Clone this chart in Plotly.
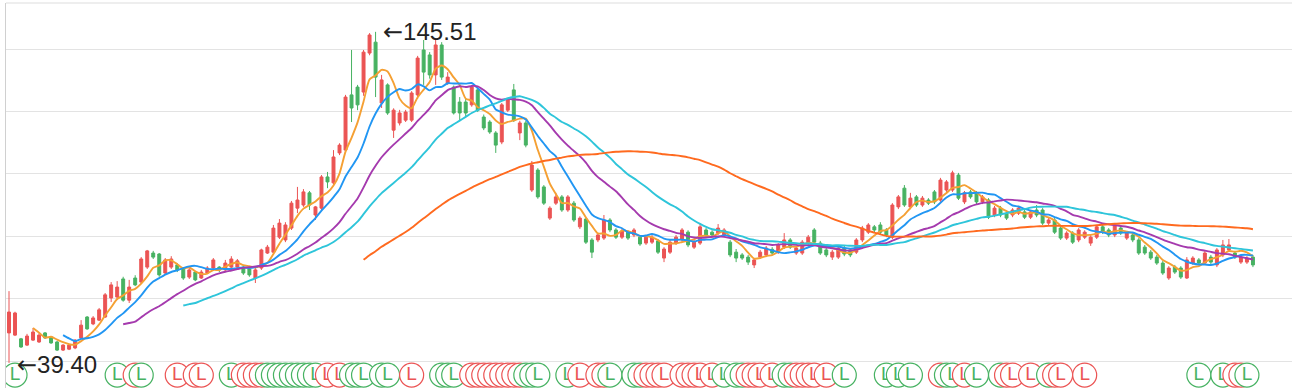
import plotly.graph_objects as go
import pandas as pd

# ---------------- data ----------------
opens = [49.0, 48.3, 47.1, 45.1, 46.7, 46.1, 49.0, 47.7, 46.1, 43.5,
         43.8, 44.2, 47.4, 54.1, 51.9, 53.1, 54.1, 60.2, 60.5, 66.3,
         59.5, 66.6, 65.3, 70.1, 74.6, 74.3, 68.2, 70.1, 70.8, 69.8,
         66.9, 68.5, 66.6, 68.2, 69.8, 70.1, 69.2, 70.1, 70.1, 70.1,
         69.5, 66.6, 69.8, 74.6, 74.9, 79.7, 78.8, 82.6, 89.0, 90.0,
         93.9, 86.8, 89.0, 99.0, 97.1, 106.7, 107.6, 125.3, 127.8, 126.2,
         138.7, 142.2, 122.7, 128.5, 114.0, 116.3, 117.2, 117.2, 125.3, 139.7,
         138.1, 131.7, 141.3, 129.1, 127.8, 123.0, 123.0, 122.1, 126.9, 118.2,
         116.6, 113.1, 110.2, 120.4, 126.9, 113.1, 116.3, 94.8, 101.2, 95.8,
         85.8, 90.6, 92.6, 88.4, 90.6, 83.0, 85.5, 78.8, 78.8, 79.4,
         85.2, 82.0, 79.7, 81.3, 80.4, 79.7, 77.8, 78.1, 78.5, 73.0,
         74.9, 77.8, 78.8, 81.3, 76.5, 77.8, 82.0, 81.3, 81.0, 80.4,
         78.1, 74.9, 74.0, 73.3, 70.8, 73.3, 74.0, 75.8, 74.9, 76.5,
         78.8, 74.6, 74.6, 77.8, 82.0, 77.8, 75.6, 73.3, 73.3, 76.2,
         75.6, 74.9, 78.8, 81.3, 83.0, 83.6, 82.0, 79.7, 89.4, 95.4,
         89.4, 92.6, 90.0, 91.6, 94.2, 91.6, 94.8, 94.8, 99.6, 91.0,
         94.2, 93.9, 91.0, 91.6, 86.8, 89.0, 87.4, 86.8, 87.4, 87.8,
         86.1, 88.4, 88.4, 84.2, 85.2, 82.6, 79.4, 81.0, 78.8, 79.7,
         77.8, 79.7, 83.0, 82.0, 80.4, 82.6, 79.4, 80.4, 78.8, 76.5,
         74.9, 73.3, 71.4, 66.6, 70.1, 69.8, 66.6, 71.4, 72.4, 71.4,
         73.3, 70.8, 74.0, 75.6, 74.6, 71.7, 71.7, 73.3]
highs = [62.4, 55.8, 47.4, 48.7, 50.6, 49.3, 49.3, 48.0, 46.4, 45.4,
         45.4, 47.0, 53.1, 54.4, 54.4, 57.0, 61.8, 65.3, 65.6, 67.0,
         66.0, 67.5, 73.3, 75.6, 75.3, 74.6, 73.0, 73.6, 71.4, 70.1,
         69.8, 68.9, 69.2, 70.4, 73.0, 70.4, 72.4, 73.6, 72.7, 70.4,
         69.8, 69.8, 76.0, 77.2, 83.6, 85.5, 84.5, 91.3, 95.8, 95.1,
         94.5, 89.7, 99.6, 100.6, 107.6, 109.8, 125.3, 139.7, 128.5, 139.7,
         145.1, 145.51, 131.7, 129.0, 121.0, 120.5, 120.5, 126.5, 137.8, 142.9,
         139.0, 142.9, 142.2, 132.6, 128.3, 124.6, 124.0, 128.5, 127.5, 119.0,
         117.2, 113.7, 122.7, 124.3, 128.8, 117.0, 117.0, 104.1, 101.8, 96.4,
         89.6, 93.9, 93.2, 93.2, 91.3, 86.4, 86.1, 79.4, 81.0, 86.8,
         85.8, 82.6, 82.3, 81.9, 82.6, 80.0, 80.4, 80.4, 79.1, 76.5,
         78.8, 80.4, 82.6, 81.9, 78.8, 84.2, 82.6, 81.9, 83.9, 82.6,
         78.8, 75.9, 74.6, 74.0, 73.0, 75.6, 76.9, 76.5, 77.8, 81.0,
         79.4, 76.9, 78.8, 80.4, 82.6, 78.5, 76.2, 75.6, 76.9, 76.9,
         76.2, 79.4, 83.3, 84.2, 83.6, 84.5, 82.6, 90.6, 93.2, 96.4,
         93.9, 93.2, 92.9, 92.2, 94.8, 98.7, 98.0, 101.0, 100.3, 94.5,
         94.8, 94.5, 93.2, 92.2, 89.7, 89.7, 88.0, 89.0, 89.7, 88.4,
         88.4, 90.0, 89.0, 85.8, 85.8, 83.3, 81.6, 81.6, 82.6, 81.9,
         80.4, 83.6, 83.6, 82.6, 84.2, 83.3, 81.6, 81.0, 79.4, 77.2,
         75.6, 74.0, 72.1, 70.4, 70.8, 70.4, 73.3, 73.6, 73.0, 75.3,
         74.0, 76.2, 78.8, 79.1, 75.3, 74.0, 73.6, 74.0]
lows = [39.4, 48.0, 44.2, 44.8, 46.4, 45.8, 47.1, 45.5, 43.2, 43.2,
        43.5, 43.8, 47.0, 50.0, 51.5, 52.8, 53.8, 58.9, 59.6, 59.0,
        58.6, 64.0, 64.7, 69.5, 72.7, 67.0, 67.6, 69.5, 68.5, 66.0,
        66.3, 65.6, 66.3, 67.9, 69.5, 68.5, 68.9, 69.8, 69.8, 67.6,
        67.0, 65.0, 69.2, 74.3, 74.6, 79.1, 78.1, 82.0, 87.4, 89.4,
        88.4, 85.2, 88.4, 95.4, 96.5, 106.0, 107.0, 116.6, 120.4, 125.0,
        138.0, 124.6, 121.1, 118.9, 111.5, 115.5, 116.6, 116.6, 124.0, 128.5,
        130.5, 128.5, 130.1, 128.5, 119.0, 117.2, 118.5, 121.5, 119.8, 114.0,
        112.8, 106.7, 109.5, 119.8, 116.6, 110.8, 108.5, 94.2, 92.0, 90.0,
        85.2, 90.0, 87.8, 87.8, 84.6, 82.3, 77.5, 73.0, 78.1, 78.8,
        81.3, 79.1, 79.1, 78.8, 79.7, 76.9, 77.2, 77.5, 74.3, 71.7,
        74.3, 77.2, 78.1, 76.5, 75.9, 77.2, 79.7, 79.7, 80.4, 79.7,
        73.3, 71.7, 72.4, 70.8, 69.8, 72.7, 73.3, 74.0, 74.3, 75.9,
        75.9, 74.0, 74.0, 77.2, 77.5, 74.0, 73.3, 72.4, 72.7, 73.6,
        73.3, 74.3, 78.1, 80.7, 81.3, 80.7, 79.7, 79.1, 88.7, 89.4,
        88.7, 89.4, 89.4, 90.0, 90.3, 91.0, 94.2, 94.2, 91.6, 90.3,
        92.0, 90.3, 90.3, 85.5, 86.1, 86.1, 85.2, 86.1, 86.8, 85.5,
        85.5, 86.1, 83.6, 83.6, 80.7, 78.8, 78.8, 77.5, 78.1, 79.1,
        76.9, 79.1, 80.7, 79.7, 79.7, 80.4, 78.8, 78.1, 74.0, 74.0,
        72.4, 70.8, 67.6, 66.0, 67.9, 66.3, 66.3, 70.8, 70.8, 70.8,
        71.1, 70.1, 73.3, 75.0, 72.7, 71.1, 71.1, 70.1]
closes = [55.7, 55.4, 44.5, 48.0, 49.3, 48.3, 47.4, 45.8, 43.5, 45.1,
          45.1, 46.7, 51.5, 50.3, 53.8, 56.4, 61.2, 64.4, 63.7, 59.5,
          63.7, 64.4, 72.7, 75.3, 73.3, 67.6, 72.4, 72.7, 69.2, 66.6,
          69.2, 66.0, 68.5, 69.8, 72.4, 69.2, 71.4, 72.7, 72.1, 68.2,
          67.6, 69.2, 75.6, 76.5, 82.6, 84.2, 83.6, 90.6, 91.6, 94.2,
          90.0, 89.4, 99.0, 97.4, 105.4, 109.2, 124.6, 121.1, 122.1, 139.0,
          144.5, 131.0, 130.1, 119.5, 120.4, 119.5, 119.8, 125.9, 137.1, 132.6,
          131.7, 141.3, 131.0, 131.0, 119.5, 119.5, 119.5, 127.8, 120.4, 114.7,
          113.4, 109.2, 122.1, 123.7, 117.2, 116.3, 109.2, 102.8, 92.6, 90.6,
          89.0, 92.6, 88.4, 92.6, 85.2, 85.8, 78.1, 74.9, 80.4, 85.2,
          82.0, 79.7, 81.7, 79.4, 82.0, 77.5, 79.7, 79.7, 74.9, 75.9,
          78.1, 79.7, 82.0, 77.2, 78.1, 83.0, 80.4, 80.4, 82.6, 82.0,
          74.0, 73.0, 73.0, 71.7, 72.4, 74.9, 76.2, 74.6, 77.2, 78.8,
          76.5, 76.2, 78.1, 79.7, 78.1, 74.6, 74.0, 74.9, 76.2, 74.3,
          74.0, 78.8, 82.6, 83.6, 82.0, 81.3, 80.4, 90.0, 92.6, 90.0,
          92.2, 90.0, 92.2, 90.6, 91.0, 98.0, 97.4, 100.3, 92.2, 93.9,
          92.6, 91.0, 92.6, 86.1, 89.0, 86.8, 85.8, 88.4, 89.0, 86.1,
          87.8, 86.8, 84.2, 85.2, 81.3, 79.4, 81.0, 78.1, 82.0, 81.3,
          79.7, 83.0, 81.3, 80.4, 83.6, 81.0, 81.0, 78.8, 74.6, 74.6,
          73.0, 71.4, 68.2, 69.8, 68.5, 66.9, 72.4, 73.0, 71.4, 74.6,
          71.7, 75.6, 77.2, 77.2, 73.3, 73.3, 73.0, 70.8]

# moving-average windows and colours
ma_windows = [5, 10, 20, 30, 60]
ma_colors = ["#F5A033", "#2196F3", "#A53AAE", "#2EC5DA", "#FF6A1F"]

# "L" signal markers: candle index and colour (r = red, g = green)
sig_idx = [1, 18, 21, 22, 28, 31, 32, 37, 39, 40, 41, 42,
           43, 44, 45, 46, 47, 48, 49, 50, 51, 53, 55, 57, 58, 59,
           62, 63, 67, 72, 73, 74, 77, 78, 79, 80, 81, 82, 83, 84, 85,
           86, 87, 88, 93, 95, 98, 99, 100, 104, 105, 106, 107, 108, 109,
           112, 113, 114, 115, 117, 119, 121, 122, 123, 124, 125, 127,
           129, 130, 131, 132, 133, 134, 136, 139, 146, 148, 150, 155,
           156, 157, 159, 161, 165, 166, 167, 170, 173, 174, 175, 179,
           198, 202, 204, 205, 206]
sig_col = ["g", "g", "r", "g", "r", "r", "r", "g", "r", "r", "r", "r",
           "g", "g", "g", "g", "g", "g", "g", "g", "g", "r", "r", "g", "g", "g",
           "g", "g", "r", "g", "g", "g", "r", "r", "r", "r", "r", "r", "r", "r", "r",
           "g", "g", "g", "g", "r", "r", "r", "g", "g", "g", "r", "r", "r", "r",
           "r", "r", "r", "r", "r", "g", "g", "g", "r", "r", "r", "r",
           "g", "g", "r", "r", "r", "r", "r", "g", "g", "g", "g", "r",
           "g", "g", "r", "g", "g", "r", "r", "r", "g", "r", "r", "r",
           "g", "g", "r", "r", "g"]

UP = "#EB5454"
DOWN = "#47B262"
SIG_LEVEL = 35.5
FONT = "Liberation Sans, Arial, sans-serif"

x = list(range(len(closes)))

fig = go.Figure()

fig.add_trace(go.Candlestick(
    x=x, open=opens, high=highs, low=lows, close=closes,
    increasing=dict(line=dict(color=UP, width=1), fillcolor=UP),
    decreasing=dict(line=dict(color=DOWN, width=1), fillcolor=DOWN),
    whiskerwidth=0, showlegend=False, hoverinfo="skip",
))

cs = pd.Series(closes)
for w, c in zip(ma_windows, ma_colors):
    ma = cs.rolling(w).mean()
    fig.add_trace(go.Scatter(
        x=x, y=ma, mode="lines",
        line=dict(color=c, width=1.9, shape="spline", smoothing=0.6),
        showlegend=False, hoverinfo="skip",
    ))

for i, col in zip(sig_idx, sig_col):
    c = UP if col == "r" else DOWN
    fig.add_trace(go.Scatter(
        x=[i], y=[SIG_LEVEL], mode="markers+text",
        marker=dict(size=24, color="white", line=dict(color=c, width=1.2)),
        text=["L"], textposition="middle center",
        textfont=dict(color=c, size=19, family=FONT),
        showlegend=False, hoverinfo="skip",
    ))

ARROW = "<span style='font-family:DejaVu Sans'>\u2190</span>"
imax = highs.index(max(highs))
imin = lows.index(min(lows))
fig.add_annotation(x=imax, y=highs[imax], text=ARROW + "%.2f" % highs[imax],
                   showarrow=False, xanchor="left", yanchor="middle", xshift=5,
                   font=dict(size=24, color="#222", family=FONT))
fig.add_annotation(x=imin, y=lows[imin], text=ARROW + "%.2f" % lows[imin],
                   showarrow=False, xanchor="left", yanchor="middle", xshift=6, yshift=-2,
                   font=dict(size=24, color="#222", family=FONT))

fig.add_shape(type="line", xref="paper", yref="paper", x0=0, x1=1, y0=1, y1=1,
              line=dict(color="#DDDDDD", width=1))

fig.update_layout(
    width=1292, height=388,
    margin=dict(l=6, r=0, t=3, b=0, autoexpand=False),
    paper_bgcolor="white", plot_bgcolor="white",
    xaxis=dict(range=[-0.5, 213.5], visible=False, rangeslider=dict(visible=False)),
    yaxis=dict(range=[31.35, 154.75], tickvals=[40, 60, 80, 100, 120, 140],
               showgrid=True, gridcolor="#E3E3E3", gridwidth=1, zeroline=False,
               showline=True, linecolor="#D0D0D0", linewidth=1, automargin=False,
               showticklabels=False),
    font=dict(family=FONT),
)

fig.write_html("out.html", config={"displayModeBar": False},
               post_script="document.body.style.margin='0';")
